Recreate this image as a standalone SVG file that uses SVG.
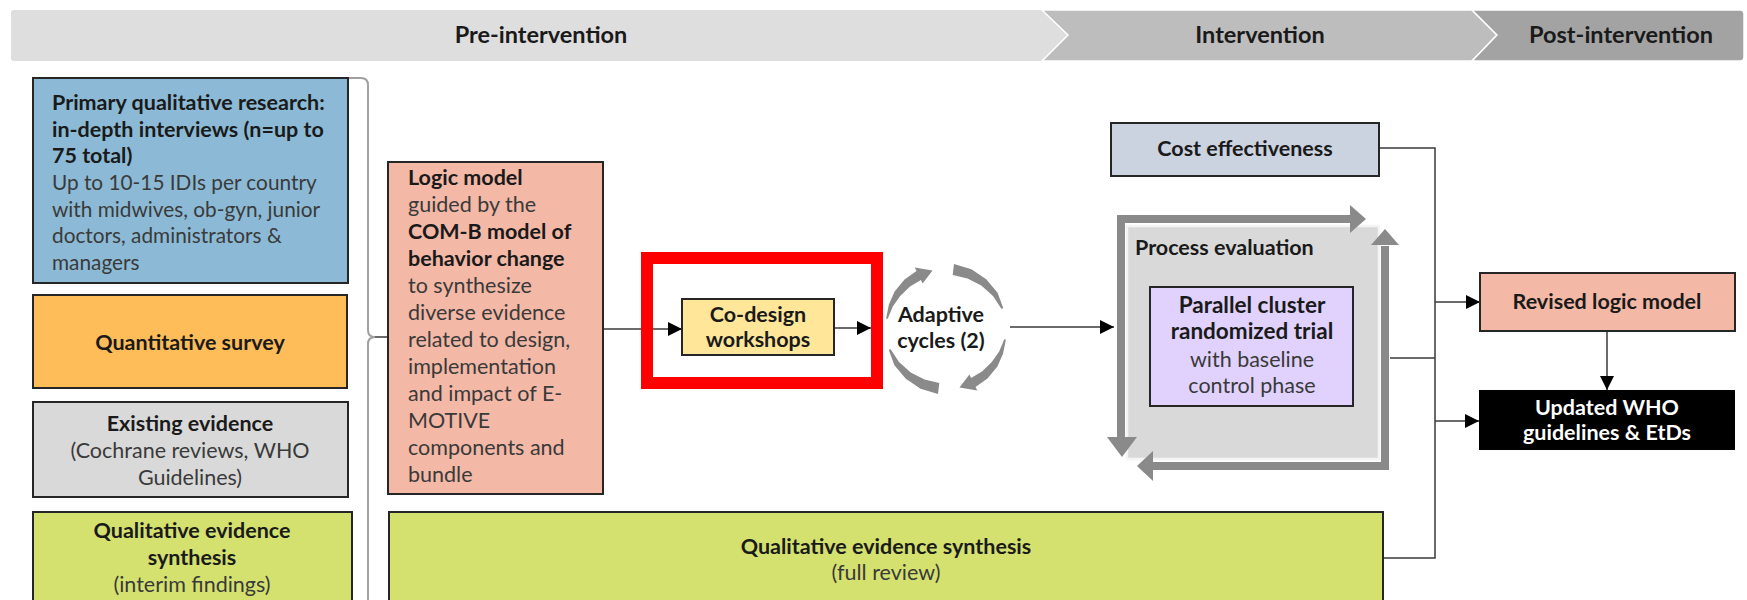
<svg xmlns="http://www.w3.org/2000/svg" width="1747" height="600" viewBox="0 0 1747 600">
<defs>
<style>
.t{font-family:Lato,"Liberation Sans",sans-serif;font-size:21.5px;fill:#1a1a1a}
.b{font-weight:700}
.r{fill:#3a3a3a}
.c{text-anchor:middle}
.lg{font-size:22.5px}
.sm{font-size:20.8px}
.h{font-family:Lato,"Liberation Sans",sans-serif;font-size:23.5px;font-weight:700;fill:#1a1a1a;text-anchor:middle}
.box{stroke:#262626;stroke-width:2}
.ln{fill:none;stroke:#3a3a3a;stroke-width:1.5}
.fr{fill:none;stroke:#8a8a8a;stroke-width:8}
.ah{fill:#8a8a8a}
.cyc{fill:#8a8a8a}
</style>
<marker id="arr" viewBox="0 0 14 14" refX="14" refY="7" markerWidth="14" markerHeight="14" markerUnits="userSpaceOnUse" orient="auto">
<path d="M0,0 L14,7 L0,14 z" fill="#000"/>
</marker>
</defs>
<rect width="1747" height="600" fill="#fff"/>

<g id="phases">
<path d="M14,10 H1042 L1068,35 L1042,61 H14 Q11,61 11,58 V13 Q11,10 14,10 Z" fill="#dedede"/>
<path d="M1042,10 H1472 L1497,35 L1472,61 H1042 L1068,35 Z" fill="#bdbdbd" stroke="#fff" stroke-width="1.5"/>
<path d="M1472,10 H1740 Q1744,10 1744,14 V57 Q1744,61 1740,61 H1472 L1497,35 Z" fill="#a3a3a3" stroke="#fff" stroke-width="1.5"/>
<text class="h" x="541" y="43">Pre-intervention</text>
<text class="h" x="1260" y="43">Intervention</text>
<text class="h" x="1621" y="43">Post-intervention</text>
</g>

<g id="connectors">
<path d="M348,78 H361 Q368,78 368,85 V330 Q368,337 375,337 Q368,337 368,344 V600" fill="none" stroke="#a0a0a0" stroke-width="2"/>
<path class="ln" d="M375,337 H388"/>
<path class="ln" d="M603,329 H682" marker-end="url(#arr)"/>
<path class="ln" d="M834,328 H871" marker-end="url(#arr)"/>
<path class="ln" d="M1010,327 H1114" marker-end="url(#arr)"/>
<path class="ln" d="M1379,148 H1435 V558 H1383"/>
<path class="ln" d="M1390,358 H1435"/>
<path class="ln" d="M1435,302 H1480" marker-end="url(#arr)"/>
<path class="ln" d="M1435,421 H1479" marker-end="url(#arr)"/>
<path class="ln" d="M1607,331 V390" marker-end="url(#arr)"/>
</g>

<g id="primary-qualitative">
<rect class="box" x="33" y="78" width="315" height="205" fill="#8cbad6"/>
<text class="t b" x="52" y="110">Primary qualitative research:</text>
<text class="t b" x="52" y="137">in-depth interviews (n=up to</text>
<text class="t b" x="52" y="163">75 total)</text>
<text class="t r sm" x="52" y="190">Up to 10-15 IDIs per country</text>
<text class="t r sm" x="52" y="217">with midwives, ob-gyn, junior</text>
<text class="t r sm" x="52" y="243">doctors, administrators &amp;</text>
<text class="t r sm" x="52" y="270">managers</text>
</g>

<g id="quantitative-survey">
<rect class="box" x="33" y="295" width="314" height="93" fill="#ffbd5a"/>
<text class="t b c" x="190" y="350">Quantitative survey</text>
</g>

<g id="existing-evidence">
<rect class="box" x="33" y="402" width="315" height="95" fill="#d9d9d9"/>
<text class="t b c" x="190" y="431">Existing evidence</text>
<text class="t r c" x="190" y="458">(Cochrane reviews, WHO</text>
<text class="t r c" x="190" y="485">Guidelines)</text>
</g>

<g id="qes-interim">
<rect class="box" x="33" y="512" width="319" height="100" fill="#d4e16f"/>
<text class="t b c" x="192" y="538">Qualitative evidence</text>
<text class="t b c" x="192" y="565">synthesis</text>
<text class="t r c" x="192" y="592">(interim findings)</text>
</g>

<g id="logic-model">
<rect class="box" x="388" y="162" width="215" height="332" fill="#f3b8a6"/>
<text class="t b" x="408" y="185">Logic model</text>
<text class="t r" x="408" y="212">guided by the</text>
<text class="t b" x="408" y="239">COM-B model of</text>
<text class="t b" x="408" y="266">behavior change</text>
<text class="t r" x="408" y="293">to synthesize</text>
<text class="t r" x="408" y="320">diverse evidence</text>
<text class="t r" x="408" y="347">related to design,</text>
<text class="t r" x="408" y="374">implementation</text>
<text class="t r" x="408" y="401">and impact of E-</text>
<text class="t r" x="408" y="428">MOTIVE</text>
<text class="t r" x="408" y="455">components and</text>
<text class="t r" x="408" y="482">bundle</text>
</g>

<g id="co-design">
<rect class="box" x="682" y="299" width="152" height="56" fill="#ffe699"/>
<text class="t b c" x="758" y="322">Co-design</text>
<text class="t b c" x="758" y="347">workshops</text>
</g>

<g id="adaptive-cycles">
<polygon class="cyc" points="886.1,318.4 888.9,304.6 894.6,291.5 904.5,279.6 916.5,271.0 914.7,267.5 932.5,270.5 922.6,283.6 920.9,280.0 910.0,286.4 900.2,295.9 892.8,306.5 887.7,318.7"/>
<polygon class="cyc" points="954.0,264.0 971.4,269.2 986.2,279.2 997.6,292.8 1003.3,308.2 1001.4,308.8 993.0,296.0 981.3,285.5 967.5,278.4 952.7,274.9"/>
<polygon class="cyc" transform="rotate(180 946 329)" points="886.1,318.4 888.9,304.6 894.6,291.5 904.5,279.6 916.5,271.0 914.7,267.5 932.5,270.5 922.6,283.6 920.9,280.0 910.0,286.4 900.2,295.9 892.8,306.5 887.7,318.7"/>
<polygon class="cyc" transform="rotate(180 946 329)" points="954.0,264.0 971.4,269.2 986.2,279.2 997.6,292.8 1003.3,308.2 1001.4,308.8 993.0,296.0 981.3,285.5 967.5,278.4 952.7,274.9"/>
<text class="t b c" x="941" y="322">Adaptive</text>
<text class="t b c" x="941" y="348">cycles (2)</text>
</g>

<g id="cost-effectiveness">
<rect class="box" x="1111" y="123" width="268" height="53" fill="#cbd2e0"/>
<text class="t b c" x="1245" y="156">Cost effectiveness</text>
</g>

<g id="process-evaluation">
<rect x="1127" y="226" width="252" height="233" fill="#d9d9d9" stroke="#f4f4f4" stroke-width="2.5"/>
<path class="fr" d="M1352,219 H1121 V440"/>
<polygon class="ah" points="1350,205 1366,219 1350,233"/>
<polygon class="ah" points="1107,437 1137,437 1122,457"/>
<path class="fr" d="M1385,246 V466 H1153"/>
<polygon class="ah" points="1371,245 1385,229 1399,245"/>
<polygon class="ah" points="1153,451 1137,466 1153,481"/>
<text class="t b" x="1135" y="255">Process evaluation</text>
</g>

<g id="cluster-trial">
<rect class="box" x="1150" y="287" width="203" height="119" fill="#e0d2fd"/>
<text class="t b c lg" x="1252" y="313">Parallel cluster</text>
<text class="t b c lg" x="1252" y="339">randomized trial</text>
<text class="t r c" x="1252" y="367">with baseline</text>
<text class="t r c" x="1252" y="393">control phase</text>
</g>

<g id="revised-logic-model">
<rect class="box" x="1480" y="273" width="255" height="58" fill="#f3b8a6"/>
<text class="t b c" x="1607" y="309">Revised logic model</text>
</g>

<g id="updated-who">
<rect x="1479" y="390" width="256" height="60" fill="#000"/>
<text class="t b c" x="1607" y="415" style="fill:#fff">Updated WHO</text>
<text class="t b c" x="1607" y="440" style="fill:#fff">guidelines &amp; EtDs</text>
</g>

<g id="qes-full">
<rect class="box" x="389" y="512" width="994" height="100" fill="#d4e16f"/>
<text class="t b c" x="886" y="554">Qualitative evidence synthesis</text>
<text class="t r c" x="886" y="580">(full review)</text>
</g>

<g id="highlight">
<rect x="647" y="258" width="230" height="125" fill="none" stroke="#ff0000" stroke-width="12"/>
</g>
</svg>
